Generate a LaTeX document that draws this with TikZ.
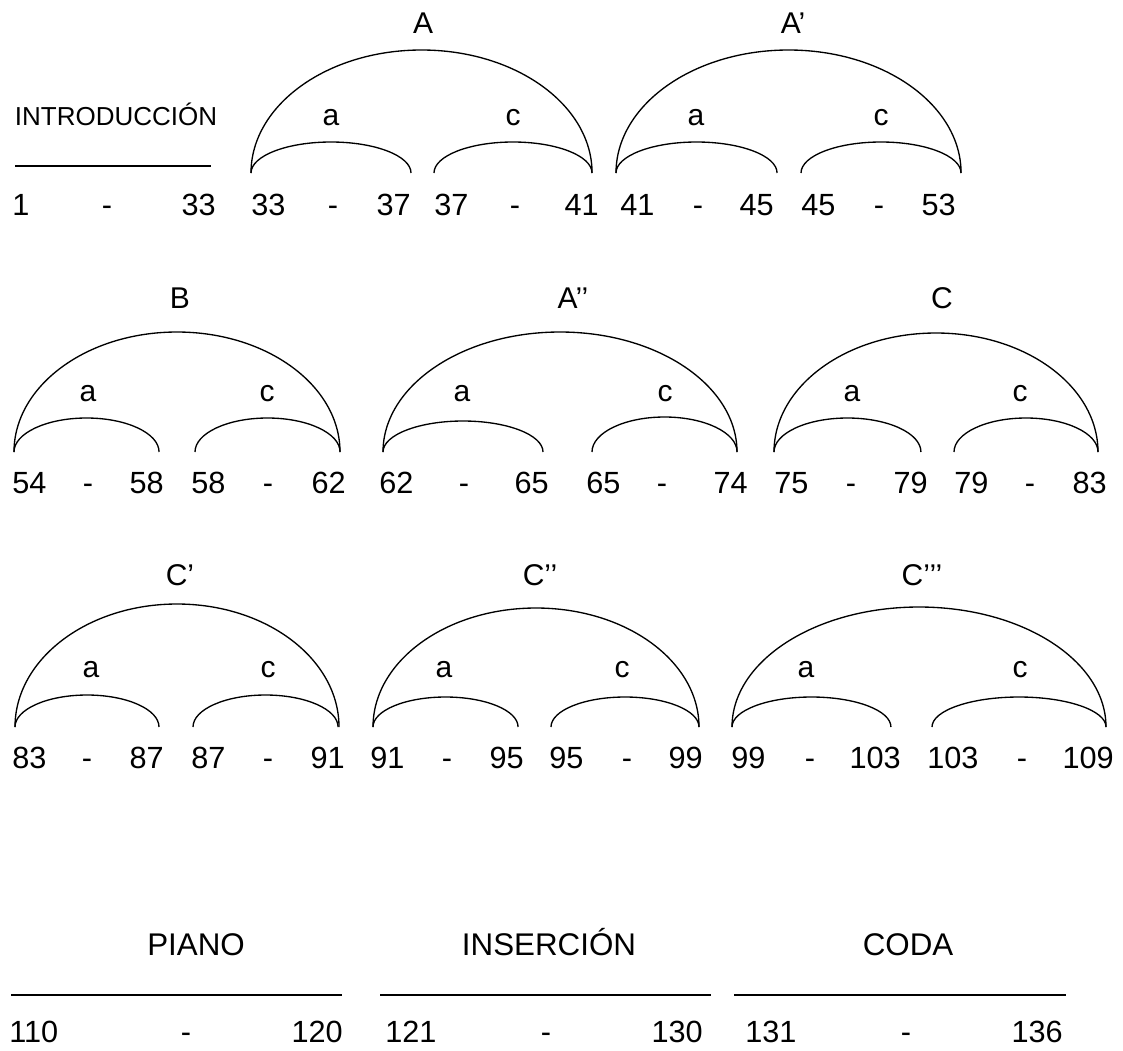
\documentclass[tikz,border=0pt]{standalone}
\usepackage{fontspec}
\setmainfont{Liberation Sans}
\begin{document}
\begin{tikzpicture}[x=0.75pt,y=-0.75pt,
  num/.style={inner sep=0pt,font=\fontsize{23}{27}\selectfont},
  lab/.style={inner sep=0pt,anchor=base,font=\fontsize{22.5}{27}\selectfont},
  introlab/.style={inner sep=0pt,anchor=base,font=\fontsize{19.5}{23}\selectfont},
  biglab/.style={inner sep=0pt,anchor=base,font=\fontsize{23.5}{28}\selectfont},
  arcline/.style={line width=1pt},
  rulestyle/.style={line width=1.2pt}]
\useasboundingbox (0,0) rectangle (1123,1050);

% ---------------- Row 1 ----------------
\node[introlab] (intro) at (116,125) {INTRODUCCIÓN};
\coordinate (il) at (15,166); \coordinate (ir) at (211,166);
\draw[rulestyle] (il) -- (ir);

\node[lab] (A) at (423,33) {A};
\node[lab] (Ap) at (793,33) {A’};
\node[lab] (Aa) at (331,125) {a};
\node[lab] (Ac) at (513,125) {c};
\node[lab] (Apa) at (696,125) {a};
\node[lab] (Apc) at (881,125) {c};

\coordinate (A0) at (251,173);
\coordinate (A1) at (434,173);
\coordinate (Ap0) at (616,173);
\coordinate (Ap1) at (801,173);
\draw[arcline] (A0) arc[start angle=180,end angle=0,x radius=127.9pt,y radius=92.25pt];
\draw[arcline] (A0) arc[start angle=180,end angle=0,x radius=60pt,y radius=23.25pt];
\draw[arcline] (A1) arc[start angle=180,end angle=0,x radius=59.25pt,y radius=23.25pt];
\draw[arcline] (Ap0) arc[start angle=180,end angle=0,x radius=129.4pt,y radius=92.25pt];
\draw[arcline] (Ap0) arc[start angle=180,end angle=0,x radius=60.4pt,y radius=23.25pt];
\draw[arcline] (Ap1) arc[start angle=180,end angle=0,x radius=60pt,y radius=23.25pt];

\node[num,anchor=base west] (n1a) at (12,215) {1};
\node[num,anchor=base] (n1b) at (107,215) {-};
\node[num,anchor=base east] (n1c) at (216,215) {33};
\node[num,anchor=base west] (n1d) at (251,215) {33};
\node[num,anchor=base] (n1e) at (333,215) {-};
\node[num,anchor=base east] (n1f) at (411,215) {37};
\node[num,anchor=base west] (n1g) at (434,215) {37};
\node[num,anchor=base] (n1h) at (515,215) {-};
\node[num,anchor=base east] (n1i) at (599,215) {41};
\node[num,anchor=base west] (n1j) at (620,215) {41};
\node[num,anchor=base] (n1k) at (698,215) {-};
\node[num,anchor=base east] (n1l) at (774,215) {45};
\node[num,anchor=base west] (n1m) at (801,215) {45};
\node[num,anchor=base] (n1n) at (879,215) {-};
\node[num,anchor=base east] (n1o) at (956,215) {53};

% ---------------- Row 2 ----------------
\node[lab] (B) at (180,308) {B};
\node[lab] (App) at (573,308) {A’’};
\node[lab] (C) at (942,308) {C};
\node[lab] (Ba) at (88,401) {a};
\node[lab] (Bc) at (267,401) {c};
\node[lab] (Appa) at (462,401) {a};
\node[lab] (Appc) at (665,401) {c};
\node[lab] (Ca) at (852,401) {a};
\node[lab] (Cc) at (1020,401) {c};

\coordinate (B0) at (14,452);
\coordinate (B1) at (195,452);
\coordinate (App0) at (383,452);
\coordinate (App1) at (592,452);
\coordinate (C0) at (774,452);
\coordinate (C1) at (954,452);
\draw[arcline] (B0) arc[start angle=180,end angle=0,x radius=122.25pt,y radius=90pt];
\draw[arcline] (B0) arc[start angle=180,end angle=0,x radius=54.4pt,y radius=25.5pt];
\draw[arcline] (B1) arc[start angle=180,end angle=0,x radius=54.4pt,y radius=25.5pt];
\draw[arcline] (App0) arc[start angle=180,end angle=0,x radius=132.75pt,y radius=90pt];
\draw[arcline] (App0) arc[start angle=180,end angle=0,x radius=60pt,y radius=23.25pt];
\draw[arcline] (App1) arc[start angle=180,end angle=0,x radius=54.4pt,y radius=26.25pt];
\draw[arcline] (C0) arc[start angle=180,end angle=0,x radius=121.5pt,y radius=89.25pt];
\draw[arcline] (C0) arc[start angle=180,end angle=0,x radius=55.1pt,y radius=25.5pt];
\draw[arcline] (C1) arc[start angle=180,end angle=0,x radius=54pt,y radius=25.5pt];

\node[num,anchor=base west] (n2a) at (12,493) {54};
\node[num,anchor=base] (n2b) at (88,493) {-};
\node[num,anchor=base east] (n2c) at (164,493) {58};
\node[num,anchor=base west] (n2d) at (191,493) {58};
\node[num,anchor=base] (n2e) at (268,493) {-};
\node[num,anchor=base east] (n2f) at (346,493) {62};
\node[num,anchor=base west] (n2g) at (379,493) {62};
\node[num,anchor=base] (n2h) at (464,493) {-};
\node[num,anchor=base east] (n2i) at (549,493) {65};
\node[num,anchor=base west] (n2j) at (586,493) {65};
\node[num,anchor=base] (n2k) at (662,493) {-};
\node[num,anchor=base east] (n2l) at (748,493) {74};
\node[num,anchor=base west] (n2m) at (774,493) {75};
\node[num,anchor=base] (n2n) at (851,493) {-};
\node[num,anchor=base east] (n2o) at (928,493) {79};
\node[num,anchor=base west] (n2p) at (954,493) {79};
\node[num,anchor=base] (n2q) at (1030,493) {-};
\node[num,anchor=base east] (n2r) at (1107,493) {83};

% ---------------- Row 3 ----------------
\node[lab] (Cp) at (180,585) {C’};
\node[lab] (Cpp) at (540,585) {C’’};
\node[lab] (Cppp) at (922,585) {C’’’};
\node[lab] (Cpa) at (91,677) {a};
\node[lab] (Cpc) at (268,677) {c};
\node[lab] (Cppa) at (444,677) {a};
\node[lab] (Cppc) at (622,677) {c};
\node[lab] (Cpppa) at (806,677) {a};
\node[lab] (Cpppc) at (1020,677) {c};

\coordinate (Cp0) at (15,727);
\coordinate (Cp1) at (193,727);
\coordinate (Cpp0) at (373,727);
\coordinate (Cpp1) at (551,727);
\coordinate (Cppp0) at (732,727);
\coordinate (Cppp1) at (932,727);
\draw[arcline] (Cp0) arc[start angle=180,end angle=0,x radius=121.5pt,y radius=92.25pt];
\draw[arcline] (Cp0) arc[start angle=180,end angle=0,x radius=54pt,y radius=24pt];
\draw[arcline] (Cp1) arc[start angle=180,end angle=0,x radius=54.4pt,y radius=24pt];
\draw[arcline] (Cpp0) arc[start angle=180,end angle=0,x radius=122.25pt,y radius=89.25pt];
\draw[arcline] (Cpp0) arc[start angle=180,end angle=0,x radius=54.4pt,y radius=22.5pt];
\draw[arcline] (Cpp1) arc[start angle=180,end angle=0,x radius=55.5pt,y radius=22.5pt];
\draw[arcline] (Cppp0) arc[start angle=180,end angle=0,x radius=140.25pt,y radius=90pt];
\draw[arcline] (Cppp0) arc[start angle=180,end angle=0,x radius=59.6pt,y radius=22.5pt];
\draw[arcline] (Cppp1) arc[start angle=180,end angle=0,x radius=65.25pt,y radius=22.5pt];

\node[num,anchor=base west] (n3a) at (12,768) {83};
\node[num,anchor=base] (n3b) at (87,768) {-};
\node[num,anchor=base east] (n3c) at (164,768) {87};
\node[num,anchor=base west] (n3d) at (191,768) {87};
\node[num,anchor=base] (n3e) at (268,768) {-};
\node[num,anchor=base east] (n3f) at (345,768) {91};
\node[num,anchor=base west] (n3g) at (370,768) {91};
\node[num,anchor=base] (n3h) at (447,768) {-};
\node[num,anchor=base east] (n3i) at (524,768) {95};
\node[num,anchor=base west] (n3j) at (549,768) {95};
\node[num,anchor=base] (n3k) at (627,768) {-};
\node[num,anchor=base east] (n3l) at (703,768) {99};
\node[num,anchor=base west] (n3m) at (731,768) {99};
\node[num,anchor=base] (n3n) at (810,768) {-};
\node[num,anchor=base east] (n3o) at (901,768) {103};
\node[num,anchor=base west] (n3p) at (927,768) {103};
\node[num,anchor=base] (n3q) at (1022,768) {-};
\node[num,anchor=base east] (n3r) at (1114,768) {109};

% ---------------- Bottom ----------------
\node[biglab] (piano) at (196,955) {PIANO};
\node[biglab] (ins) at (549,955) {INSERCIÓN};
\node[biglab] (coda) at (908,955) {CODA};
\coordinate (p0) at (11,995); \coordinate (p1) at (342,995);
\coordinate (s0) at (380,995); \coordinate (s1) at (711,995);
\coordinate (d0) at (734,995); \coordinate (d1) at (1066,995);
\draw[rulestyle] (p0) -- (p1);
\draw[rulestyle] (s0) -- (s1);
\draw[rulestyle] (d0) -- (d1);

\node[num,anchor=base west] (n4a) at (9,1042) {110};
\node[num,anchor=base] (n4b) at (186,1042) {-};
\node[num,anchor=base east] (n4c) at (343,1042) {120};
\node[num,anchor=base west] (n4d) at (385,1042) {121};
\node[num,anchor=base] (n4e) at (546,1042) {-};
\node[num,anchor=base east] (n4f) at (703,1042) {130};
\node[num,anchor=base west] (n4g) at (745,1042) {131};
\node[num,anchor=base] (n4h) at (906,1042) {-};
\node[num,anchor=base east] (n4i) at (1063,1042) {136};
\end{tikzpicture}
\end{document}
